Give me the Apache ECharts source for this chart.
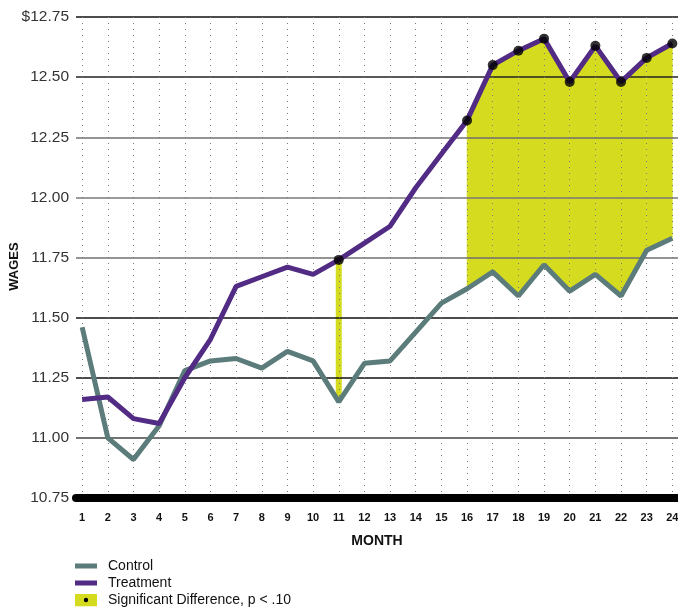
<!DOCTYPE html>
<html>
<head>
<meta charset="utf-8">
<script src="https://cdn.jsdelivr.net/npm/echarts@6/dist/echarts.min.js"></script>
<style>
html,body{margin:0;padding:0;background:#fff;}
#chart{width:678px;height:608px;}
</style>
</head>
<body>
<div id="chart"></div>
<script>
const months = [1,2,3,4,5,6,7,8,9,10,11,12,13,14,15,16,17,18,19,20,21,22,23,24];
const control = [11.46,11.00,10.91,11.05,11.28,11.32,11.33,11.29,11.36,11.32,11.15,11.31,11.32,11.44,11.56,11.62,11.69,11.59,11.72,11.61,11.68,11.59,11.78,11.83];
const treatment = [11.16,11.17,11.08,11.06,11.25,11.41,11.63,11.67,11.71,11.68,11.74,11.81,11.88,12.04,12.18,12.32,12.55,12.61,12.66,12.48,12.63,12.48,12.58,12.64];
const sigMonths = [11,16,17,18,19,20,21,22,23,24];
const yTickValues = [10.75,11.00,11.25,11.50,11.75,12.00,12.25,12.50,12.75];
const yTickLabels = ['10.75','11.00','11.25','11.50','11.75','12.00','12.25','12.50','$12.75'];

const C_CONTROL = '#5b7c7b';
const C_TREAT = '#522b84';
const C_SIG = '#d5dc1f';

function svgIcon(inner){
  return 'image://data:image/svg+xml;charset=utf-8,' + encodeURIComponent(
    "<svg xmlns='http://www.w3.org/2000/svg' width='22' height='13' viewBox='0 0 22 13'>" + inner + "</svg>");
}
const iconControl = svgIcon("<rect x='0' y='4' width='22' height='5' fill='" + C_CONTROL + "'/>");
const iconTreat = svgIcon("<rect x='0' y='4' width='22' height='5' fill='" + C_TREAT + "'/>");
const iconSig = svgIcon("<rect x='0' y='0' width='22' height='13' fill='" + C_SIG + "'/><circle cx='11' cy='6.5' r='2.2' fill='#000'/>");

const chart = echarts.init(document.getElementById('chart'));
const FONT = 'Liberation Sans, Arial, Helvetica, sans-serif';

chart.setOption({
  animation: false,
  backgroundColor: '#fff',
  grid: {left: 76, right: 0, top: 17, bottom: 110, containLabel: false, outerBoundsMode: 'none'},
  legend: {
    orient: 'vertical',
    left: 75,
    top: 558,
    height: 60,
    padding: 0,
    itemWidth: 22,
    itemHeight: 13,
    itemGap: 1,
    selectedMode: false,
    textStyle: {fontFamily: FONT, fontSize: 14, lineHeight: 16, color: '#111', padding: [0,0,0,6]},
    data: [
      {name: 'Control', icon: iconControl},
      {name: 'Treatment', icon: iconTreat},
      {name: 'Significant Difference, p < .10', icon: iconSig}
    ]
  },
  xAxis: {
    type: 'value',
    min: 0.76,
    max: 24.22,
    name: 'MONTH',
    nameLocation: 'middle',
    nameGap: 36,
    nameTextStyle: {fontFamily: FONT, fontSize: 14, fontWeight: 'bold', color: '#111'},
    axisLine: {show: true, onZero: false, lineStyle: {color: '#000', width: 8}},
    axisTick: {show: false, customValues: months},
    axisLabel: {
      customValues: months,
      margin: 14,
      fontFamily: FONT, fontSize: 11, fontWeight: 'bold', color: '#111'
    },
    splitLine: {show: true, lineStyle: {color: '#777', width: 1, type: [1, 5]}}
  },
  yAxis: {
    type: 'value',
    min: 10.75,
    max: 12.75,
    interval: 0.25,
    name: 'WAGES',
    nameLocation: 'middle',
    nameGap: 55,
    nameMoveOverlap: false,
    nameTextStyle: {fontFamily: FONT, fontSize: 13, fontWeight: 'bold', color: '#111', padding: [0, 18, 0, 0]},
    axisLine: {show: false},
    axisTick: {show: false},
    axisLabel: {
      margin: 7,
      fontFamily: FONT, fontSize: 15.5, color: '#333',
      formatter: function(v){
        const i = yTickValues.findIndex(t => Math.abs(t - v) < 1e-6);
        return i >= 0 ? yTickLabels[i] : '';
      }
    },
    splitLine: {show: true, lineStyle: {width: 1.5, color: ['#000','#444','#111','#111','#707070','#7a7a7a','#707070','#222','#111']}}
  },
  series: [
    {
      name: 'Significant Difference, p < .10',
      type: 'custom',
      z: -1,
      clip: true,
      data: sigMonths.map(m => [m, control[m-1], treatment[m-1]]),
      renderItem: function(params, api){
        const m = api.value(0);
        const i = m - 1;
        const hasNext = sigMonths.indexOf(m + 1) >= 0;
        const hasPrev = sigMonths.indexOf(m - 1) >= 0;
        if (hasNext) {
          const pts = [
            api.coord([m, treatment[i]]),
            api.coord([m + 1, treatment[i + 1]]),
            api.coord([m + 1, control[i + 1]]),
            api.coord([m, control[i]])
          ];
          return {type: 'polygon', shape: {points: pts}, style: {fill: C_SIG, stroke: C_SIG, lineWidth: 0.6}};
        }
        if (!hasPrev) {
          const top = api.coord([m, api.value(2)]);
          const bot = api.coord([m, api.value(1)]);
          return {type: 'rect', shape: {x: top[0] - 3, y: top[1], width: 6, height: bot[1] - top[1]}, style: {fill: C_SIG}};
        }
        return null;
      }
    },
    {
      name: 'Control',
      type: 'line',
      z: 3,
      symbol: 'none',
      color: C_CONTROL,
      lineStyle: {color: C_CONTROL, width: 5},
      data: months.map((m, i) => [m, control[i]])
    },
    {
      name: 'Treatment',
      type: 'line',
      z: 4,
      symbol: 'none',
      color: C_TREAT,
      lineStyle: {color: C_TREAT, width: 5},
      data: months.map((m, i) => [m, treatment[i]])
    },
    {
      name: 'sigPoints',
      type: 'scatter',
      z: 5,
      symbol: 'circle',
      symbolSize: 10,
      itemStyle: {color: '#000'},
      data: sigMonths.map(m => [m, treatment[m-1]])
    }
  ]
});
</script>
</body>
</html>
